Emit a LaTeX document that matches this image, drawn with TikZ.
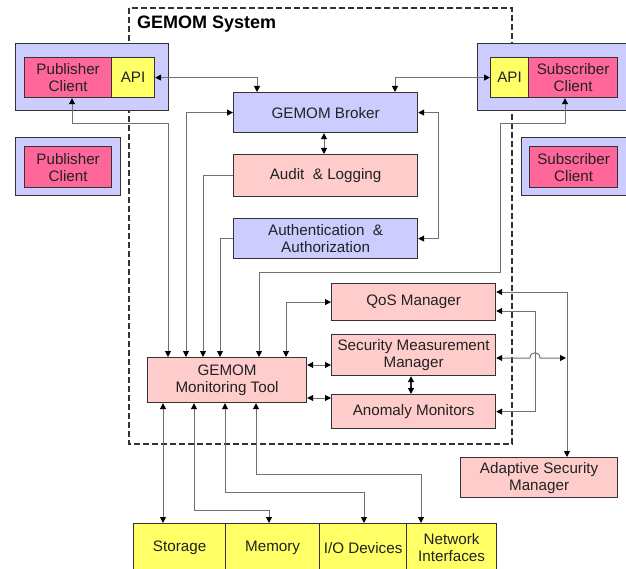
\documentclass[tikz,border=0pt]{standalone}
\usepackage{fontspec}
\setmainfont{Liberation Sans}
\usetikzlibrary{arrows.meta,calc}
\definecolor{lav}{HTML}{CCCCFF}
\definecolor{lpink}{HTML}{FFCCCC}
\definecolor{hpink}{HTML}{FF6699}
\definecolor{yel}{HTML}{FFFF66}
\definecolor{ln}{HTML}{707070}
\definecolor{txt}{HTML}{222222}
\begin{document}
\begin{tikzpicture}[x=1pt,y=-1pt,
  box/.style={draw=black!80,line width=1.2pt,inner sep=0pt,align=center,anchor=north west,text=txt,font=\fontsize{15.2}{17}\selectfont},
  con/.style={draw=ln,line width=1pt},
  >={Triangle[length=6pt,width=6pt,color=black]}]
\useasboundingbox (0,0) rectangle (626,569);
\clip (0,0) rectangle (626,569);
% system frame
\draw[black!80,line width=1.2pt,dash pattern=on 6pt off 3pt] (129,8) rectangle (512,444);
\node[anchor=west,font=\bfseries\fontsize{18}{20}\selectfont,inner sep=0pt] (title) at (137,24) {GEMOM System};
% publisher
\node[box,fill=lav,minimum width=153pt,minimum height=67pt] (pubo) at (15,43) {};
\node[box,fill=hpink,minimum width=87pt,minimum height=40pt] (pubc) at (24,57) {Publisher\\Client};
\node[box,fill=yel,minimum width=43pt,minimum height=40pt] (api1) at (111,57) {API};
\node[box,fill=lav,minimum width=105pt,minimum height=58pt] (pubo2) at (15,137) {};
\node[box,fill=hpink,minimum width=87pt,minimum height=41pt] (pubc2) at (24,146) {Publisher\\Client};
% subscriber
\node[box,fill=lav,minimum width=160pt,minimum height=67pt] (subo) at (477,43) {};
\node[box,fill=yel,minimum width=38pt,minimum height=40pt] (api2) at (490,57) {API};
\node[box,fill=hpink,minimum width=89pt,minimum height=40pt] (subc) at (528,57) {Subscriber\\Client};
\node[box,fill=lav,minimum width=115pt,minimum height=58pt] (subo2) at (521,137) {};
\node[box,fill=hpink,minimum width=88pt,minimum height=41pt] (subc2) at (529,146) {Subscriber\\Client};
% system components
\node[box,fill=lav,minimum width=184pt,minimum height=40pt] (broker) at (233,92) {GEMOM Broker};
\node[box,fill=lpink,minimum width=184pt,minimum height=42pt] (audit) at (233,154) {Audit \ \& Logging};
\node[box,fill=lav,minimum width=184pt,minimum height=40pt] (auth) at (233,218) {Authentication \ \&\\Authorization};
\node[box,fill=lpink,minimum width=164pt,minimum height=37pt] (qos) at (331,283) {QoS Manager};
\node[box,fill=lpink,minimum width=164pt,minimum height=41pt] (smm) at (331,334) {Security Measurement\\Manager};
\node[box,fill=lpink,minimum width=164pt,minimum height=34pt] (anom) at (331,394) {Anomaly Monitors};
\node[box,fill=lpink,minimum width=159pt,minimum height=45pt] (mon) at (147,357) {GEMOM\\Monitoring Tool};
\node[box,fill=lpink,minimum width=157pt,minimum height=40pt] (asm) at (460,457) {Adaptive Security\\Manager};
% resources
\node[box,fill=yel,minimum width=92pt,minimum height=48pt] (stor) at (133,523) {Storage};
\node[box,fill=yel,minimum width=94pt,minimum height=48pt] (mem) at (225,523) {Memory};
\node[box,fill=yel,minimum width=87pt,minimum height=48pt] (io) at (319,523) {I/O Devices};
\node[box,fill=yel,minimum width=90pt,minimum height=48pt] (net) at (406,523) {Network\\Interfaces};
% helper coordinates
\foreach \v in {72,163,168,186,194,203,220,225,256,257,259,269,286,324,364,395,411,421,438,500,535,565,567}
  {\coordinate (x\v) at (\v,0);}
\foreach \v in {124,272,292,302,311,358,365,398,474,492,510}
  {\coordinate (h\v) at (0,\v);}
\coordinate (hopa) at (530,358);
\coordinate (hopb) at (540,358);
\coordinate (jn) at (566,358);
% connectors
\draw[con,<->] (api1.east) -| (x257 |- broker.north);
\draw[con,<->] (x72 |- pubc.south) -- (x72 |- h124) -| (x168 |- mon.north);
\draw[con,<->] (broker.west) -| (x186 |- mon.north);
\draw[con,->] (audit.west) -| (x203 |- mon.north);
\draw[con,->] (auth.west) -| (x220 |- mon.north);
\draw[con,<->] (x565 |- subc.south) -- (x565 |- h124) -| (x500 |- h272) -| (x259 |- mon.north);
\draw[con,<->] (qos.west) -| (x286 |- mon.north);
\draw[con,<->] (mon.east |- h365) -- (smm.west |- h365);
\draw[con,<->] (mon.east |- h398) -- (anom.west |- h398);
\draw[con,<->,draw=black!85,line width=1.3pt] (x411 |- smm.south) -- (x411 |- anom.north);
\draw[con,<->] (x324 |- broker.south) -- (x324 |- audit.north);
\draw[con,<->] (api2.west) -| (x395 |- broker.north);
\draw[con,<->] (broker.east) -- (x438 |- broker.east) |- (auth.east);
\draw[con,<->] (qos.east |- h292) -| (x567 |- asm.north);
\draw[con,<->] (qos.east |- h311) -| (x535 |- anom.east) -- (anom.east);
\draw[con,<->] (smm.east |- h358) -- (hopa) .. controls (530,351) and (540,351) .. (hopb) -- (jn);
\draw[con,<->] (x163 |- mon.south) -- (x163 |- stor.north);
\draw[con,<->] (x194 |- mon.south) -- (x194 |- h510) -| (x269 |- mem.north);
\draw[con,<->] (x225 |- mon.south) -- (x225 |- h492) -| (x364 |- io.north);
\draw[con,<->] (x256 |- mon.south) -- (x256 |- h474) -| (x421 |- net.north);
\end{tikzpicture}
\end{document}
